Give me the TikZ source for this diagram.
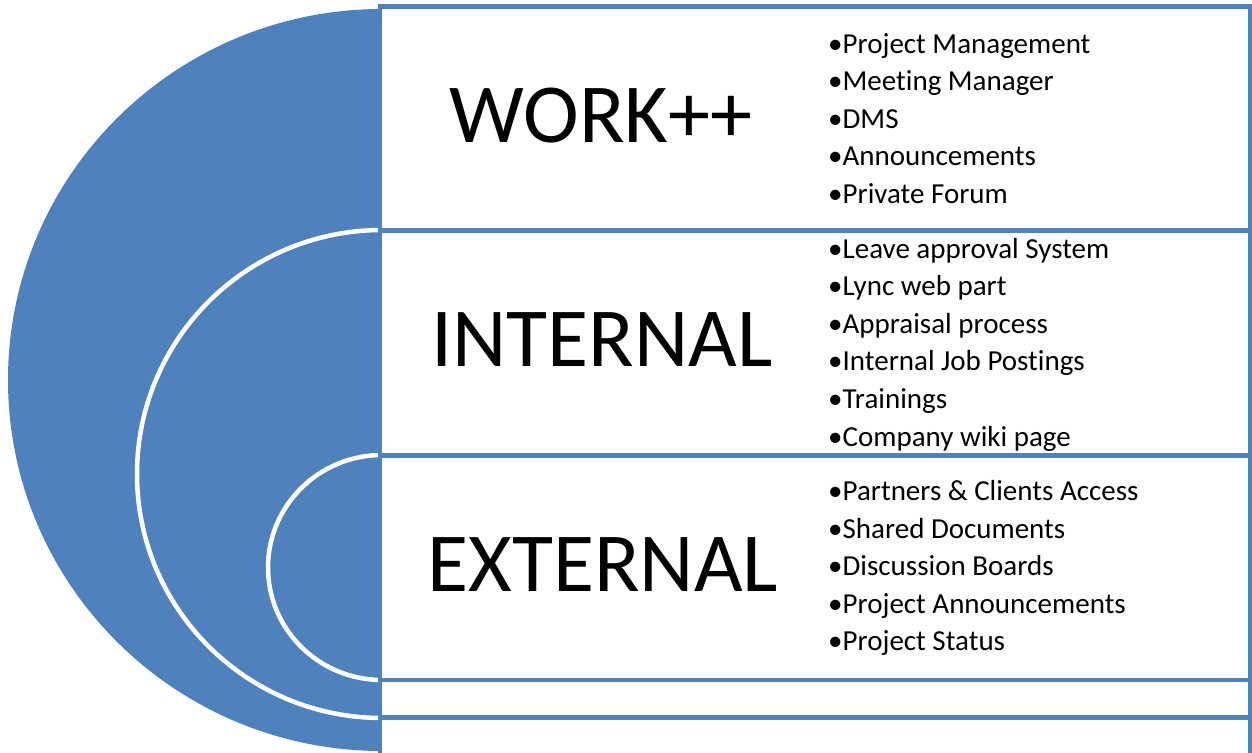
\documentclass[tikz,border=0pt]{standalone}
\usepackage{fontspec}
\setmainfont{Carlito}[Ligatures=CommonOff]
\definecolor{accent}{HTML}{4F81BD}
\begin{document}
\begin{tikzpicture}[x=1pt,y=-1pt,
  halfdisc/.style={fill=accent, draw=white, line width=4.5pt},
  panel/.style={draw=accent, line width=4.5pt, fill=white},
  biglabel/.style={anchor=base, inner sep=0pt, font=\fontsize{84}{100}\selectfont},
  listitem/.style={anchor=base west, inner sep=0pt, font=\fontsize{29}{36}\selectfont}]
\useasboundingbox (0,0) rectangle (1252,752);
\clip (0,0) rectangle (1252,752);
% nested half discs
\fill[accent] (382,380) ++(0,-371) arc[start angle=270, end angle=90, x radius=374, y radius=371] -- cycle;
\draw[halfdisc] (382,474) ++(0,-244) arc[start angle=270, end angle=90, x radius=245, y radius=244] -- cycle;
\draw[halfdisc] (382,567.5) ++(0,-112.5) arc[start angle=270, end angle=90, x radius=114, y radius=112.5] -- cycle;
% panels
\draw[panel] (380,6.5) rectangle (1250.5,230.5);
\draw[panel] (380,230.5) rectangle (1250.5,455.5);
\draw[panel] (380,455.5) rectangle (1250.5,680);
\draw[panel] (380,680) rectangle (1250.5,717.5);
\draw[panel] (380,717.5) rectangle (1250.5,770);
% labels
\node[biglabel] (work) at (601,142) {WORK++};
\node[biglabel] (internal) at (602,366) {INTERNAL};
\node[biglabel] (external) at (603,591) {EXTERNAL};
% lists
\foreach \t [count=\i from 0] in {Project Management, Meeting Manager, DMS, Announcements, Private Forum}
  \node[listitem] (w\i) at (828,{53+37.6*\i}) {•\t};
\foreach \t [count=\i from 0] in {Leave approval System, Lync web part, Appraisal process, Internal Job Postings, Trainings, Company wiki page}
  \node[listitem] (n\i) at (828,{258+37.6*\i}) {•\t};
\foreach \t [count=\i from 0] in {Partners \& Clients Access, Shared Documents, Discussion Boards, Project Announcements, Project Status}
  \node[listitem] (e\i) at (828,{500.5+37.6*\i}) {•\t};
\end{tikzpicture}
\end{document}
